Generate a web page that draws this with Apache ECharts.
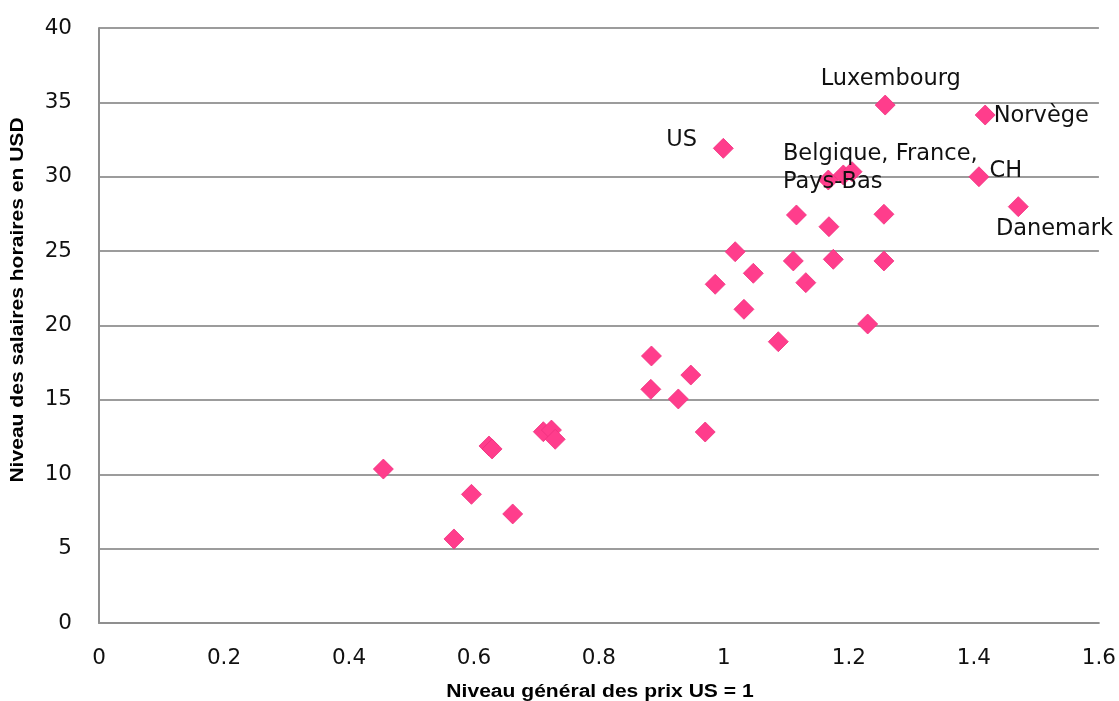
<!DOCTYPE html>
<html>
<head>
<meta charset="utf-8">
<script src="https://cdn.jsdelivr.net/npm/echarts@6/dist/echarts.min.js"></script>
<style>
  html, body { margin: 0; padding: 0; background: #ffffff; }
  #chart { width: 1119px; height: 701px; }
</style>
</head>
<body>
<div id="chart"></div>
<script>
// Niveau général des prix (US = 1)
const prix = [0.455, 0.568, 0.596, 0.624, 0.629, 0.662, 0.711, 0.724, 0.730,
  0.884, 0.883, 0.927, 0.947, 0.970, 0.986, 0.999, 1.018, 1.032, 1.047,
  1.087, 1.111, 1.116, 1.131, 1.168, 1.175, 1.167, 1.191, 1.205, 1.230,
  1.258, 1.256, 1.256, 1.418, 1.408, 1.471];

// Niveau des salaires horaires en USD
const salaires = [10.35, 5.65, 8.65, 11.9, 11.7, 7.33, 12.86, 12.97, 12.35,
  17.95, 15.71, 15.06, 16.67, 12.84, 22.77, 31.91, 24.96, 21.09, 23.51,
  18.91, 24.34, 27.43, 22.88, 26.64, 24.45, 29.78, 30.12, 30.34, 20.1,
  34.82, 27.48, 24.34, 34.15, 30.0, 27.99];

// Pays étiquetés (vide = point sans étiquette)
const pays = ['', '', '', '', '', '', '', '', '',
  '', '', '', '', '', '', 'US', '', '', '',
  '', '', '', '', '', '', '', 'Belgique, France,\nPays-Bas', '', '',
  'Luxembourg', '', '', 'Norvège', 'CH', 'Danemark'];

const xTicks = ['0', '0.2', '0.4', '0.6', '0.8', '1', '1.2', '1.4', '1.6'];
const yTicks = ['0', '5', '10', '15', '20', '25', '30', '35', '40'];

const LABEL_FONT = 'DejaVu Sans';

// Placement of each country label relative to its marker box
const labelPlacement = {
  'US':         { position: [-16, 2], align: 'right', verticalAlign: 'middle' },
  'Luxembourg': { position: [16, -15], align: 'center', verticalAlign: 'middle' },
  'Norvège':    { position: [19, 12], align: 'left', verticalAlign: 'middle' },
  'CH':         { position: [21, 5], align: 'left', verticalAlign: 'middle' },
  'Danemark':   { position: [-12, 33], align: 'left', verticalAlign: 'middle' },
  'Belgique, France,\nPays-Bas': { position: [-50, -24], align: 'left', verticalAlign: 'top', lineHeight: 28 }
};

const points = prix.map((x, i) => {
  const item = { value: [x, salaires[i]], name: pays[i] };
  if (pays[i]) {
    item.label = Object.assign({
      show: true,
      formatter: pays[i],
      fontFamily: LABEL_FONT,
      fontSize: 22.5,
      color: '#111111'
    }, labelPlacement[pays[i]]);
  }
  return item;
});

const chart = echarts.init(document.getElementById('chart'), null, { renderer: 'canvas' });

chart.setOption({
  animation: false,
  backgroundColor: '#ffffff',
  grid: { left: 99, right: 20, top: 28, bottom: 78, containLabel: false },
  xAxis: {
    type: 'value',
    min: 0, max: 1.6, interval: 0.2,
    axisLine: { show: true, onZero: false, lineStyle: { color: '#8f8f8f', width: 2 } },
    axisTick: { show: false },
    splitLine: { show: false },
    axisLabel: {
      margin: 24,
      fontFamily: LABEL_FONT, fontSize: 21.5, color: '#111111',
      showMinLabel: true, showMaxLabel: true,
      formatter: (v) => xTicks[Math.round(v / 0.2)]
    }
  },
  yAxis: {
    type: 'value',
    min: 0, max: 40, interval: 5,
    axisLine: { show: true, lineStyle: { color: '#8f8f8f', width: 2 } },
    axisTick: { show: false },
    splitLine: { show: true, lineStyle: { color: '#9c9c9c', width: 2 } },
    axisLabel: {
      margin: 27,
      fontFamily: LABEL_FONT, fontSize: 21.5, color: '#111111',
      formatter: (v) => yTicks[Math.round(v / 5)]
    }
  },
  series: [{
    type: 'scatter',
    symbol: 'diamond',
    symbolSize: 20,
    itemStyle: { color: '#ff3d8c', borderColor: '#f0317f', borderWidth: 0.8, opacity: 1 },
    label: { show: false },
    emphasis: { disabled: true },
    data: points
  }],
  graphic: [
    {
      type: 'text',
      x: 600, y: 692,
      scaleX: 1.17,
      style: {
        text: 'Niveau général des prix US = 1',
        font: 'bold 18px "Liberation Sans", Arial, sans-serif',
        fill: '#000000',
        textAlign: 'center',
        textVerticalAlign: 'middle'
      }
    },
    {
      type: 'text',
      x: 18, y: 300,
      rotation: Math.PI / 2,
      scaleX: 1.17,
      style: {
        text: 'Niveau des salaires horaires en USD',
        font: 'bold 18px "Liberation Sans", Arial, sans-serif',
        fill: '#000000',
        textAlign: 'center',
        textVerticalAlign: 'middle'
      }
    }
  ]
});
</script>
</body>
</html>
